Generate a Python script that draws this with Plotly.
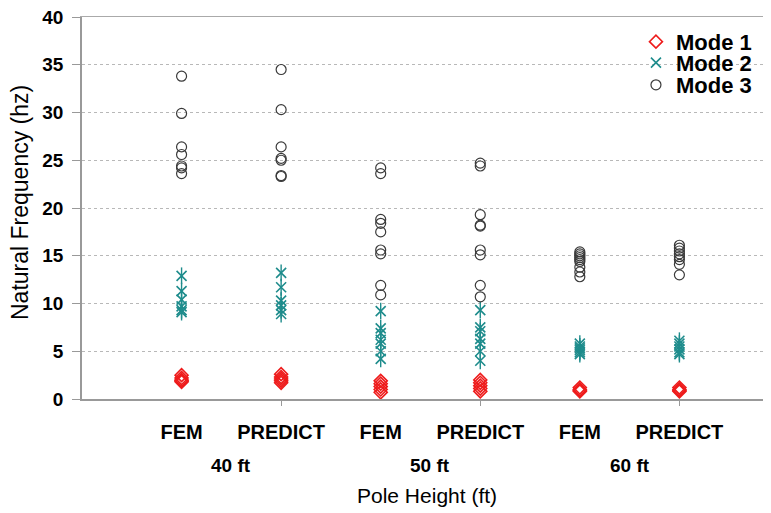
import plotly.graph_objects as go

# Categories
methods = ["FEM", "PREDICT", "FEM", "PREDICT", "FEM", "PREDICT"]
heights = ["40 ft", "50 ft", "60 ft"]

# Mode 1 natural frequencies (hz), one list per category
mode1 = [
    [2.5, 2.2, 2.0, 1.9, 1.8],
    [2.6, 2.3, 2.1, 1.9, 1.7],
    [1.9, 1.6, 1.3, 1.0, 0.7],
    [2.0, 1.7, 1.4, 1.1, 0.8],
    [1.2, 1.0, 0.9, 0.8],
    [1.2, 1.0, 0.9, 0.8],
]
# Mode 2
mode2 = [
    [12.9, 11.3, 10.4, 9.7, 9.3, 9.1],
    [13.2, 11.7, 10.3, 9.8, 9.3, 8.9],
    [9.2, 7.4, 6.9, 6.2, 5.8, 5.0, 4.2],
    [9.3, 7.5, 7.1, 6.3, 5.8, 5.0, 4.0],
    [5.8, 5.5, 5.3, 5.1, 4.9, 4.7],
    [6.1, 5.8, 5.5, 5.2, 4.9, 4.7],
]
# Mode 3
mode3 = [
    [33.8, 29.9, 26.4, 25.6, 24.4, 24.2, 23.6],
    [34.5, 30.3, 26.4, 25.2, 25.0, 23.4, 23.3],
    [24.2, 23.6, 18.8, 18.4, 17.5, 15.6, 15.2, 11.9, 10.9],
    [24.7, 24.4, 19.3, 18.2, 18.1, 15.6, 15.1, 11.9, 10.7],
    [15.4, 15.2, 15.0, 14.8, 14.6, 14.4, 13.8, 13.3, 12.8],
    [16.1, 15.8, 15.5, 15.2, 14.9, 14.6, 14.1, 13.0],
]

FONT = "Liberation Sans, Arial, sans-serif"
RED = "#ee1c1c"
TEAL = "#1e8c8c"
GRAY = "#3a3a3a"


def flatten(data):
    xs, ys = [], []
    for i, vals in enumerate(data):
        xs += [i + 1] * len(vals)
        ys += vals
    return xs, ys


fig = go.Figure()
x1, y1 = flatten(mode1)
x2, y2 = flatten(mode2)
x3, y3 = flatten(mode3)

fig.add_trace(go.Scatter(
    x=x1, y=y1, mode="markers", name="Mode 1", legend="legend",
    marker=dict(symbol="diamond-open", size=10, color=RED, line=dict(color=RED, width=1.6)),
))
fig.add_trace(go.Scatter(
    x=x2, y=y2, mode="markers", name="Mode 2", legend="legend2",
    marker=dict(symbol="x-thin-open", size=10, color=TEAL, line=dict(color=TEAL, width=1.6)),
))
# vertical stroke of the Excel-style star marker
fig.add_trace(go.Scatter(
    x=x2, y=y2, mode="markers", name="Mode 2", showlegend=False, hoverinfo="skip",
    marker=dict(symbol="line-ns-open", size=12, color=TEAL, line=dict(color=TEAL, width=1.4)),
))
fig.add_trace(go.Scatter(
    x=x3, y=y3, mode="markers", name="Mode 3", legend="legend3",
    marker=dict(symbol="circle-open", size=10, color=GRAY, line=dict(color=GRAY, width=1.2)),
))

# invisible traces for the tick / border overlay axes
fig.add_trace(go.Scatter(x=[1], y=[0], xaxis="x2", mode="markers",
                         marker=dict(opacity=0), showlegend=False, hoverinfo="skip"))
fig.add_trace(go.Scatter(x=[1], y=[0], xaxis="x3", mode="markers",
                         marker=dict(opacity=0), showlegend=False, hoverinfo="skip"))

legend_font = dict(family=FONT, size=22, color="black", weight="bold")


def leg(y):
    return dict(x=0.804, y=y, xanchor="left", yanchor="middle",
                bgcolor="rgba(0,0,0,0)", borderwidth=0, font=legend_font, itemwidth=30)


xr = [0, 6.92]
fig.update_layout(
    width=771, height=513,
    # the page body adds an 8px offset; margins compensate for it
    margin=dict(l=74, r=8, t=9, b=122),
    paper_bgcolor="white", plot_bgcolor="white",
    font=dict(family=FONT, color="black"),
    showlegend=True,
    legend=leg(0.935),
    legend2=leg(0.88),
    legend3=leg(0.822),
    xaxis=dict(
        range=xr, tickmode="array", tickvals=list(range(1, 7)), ticktext=methods,
        ticks="", showgrid=False, zeroline=False, automargin=False,
        showline=True, linecolor="#999999", linewidth=2,
        tickfont=dict(family=FONT, size=20, weight="bold"),
        ticklabelstandoff=14,
    ),
    xaxis2=dict(
        range=xr, overlaying="x", side="bottom", anchor="y", automargin=False,
        tickmode="array", tickvals=[2, 4, 6], ticks="outside", ticklen=6,
        tickcolor="#999999", showticklabels=False, showgrid=False, zeroline=False,
        showline=False,
    ),
    xaxis3=dict(
        range=xr, overlaying="x", side="top", anchor="y", automargin=False,
        ticks="", showticklabels=False, showgrid=False, zeroline=False,
        showline=True, linecolor="#aaaaaa", linewidth=1,
    ),
    yaxis=dict(
        range=[0, 40], dtick=5, tick0=0, automargin=False,
        ticks="outside", ticklen=8, tickcolor="#999999",
        showline=True, linecolor="#999999", linewidth=1.5,
        showgrid=True, gridcolor="#b8b8b8", griddash="dot", gridwidth=1,
        zeroline=False,
        tickfont=dict(family=FONT, size=19, weight="bold"),
        ticklabelstandoff=5, ticklabeloverflow="allow",
    ),
)

# white legend background that hides the gridlines behind it
fig.add_shape(type="rect", xref="paper", yref="paper", x0=0.817, x1=1.0, y0=0.79, y1=0.972,
              fillcolor="white", line=dict(width=0), layer="between")

for j, h in enumerate(heights):
    fig.add_annotation(
        x=2 * j + 1.5, y=0, xref="x", yref="paper",
        text=h, showarrow=False, yanchor="middle", yshift=-66,
        font=dict(family=FONT, size=19, weight="bold", color="black"),
    )

fig.add_annotation(
    x=0.5, y=0, xref="paper", yref="paper", text="Pole Height (ft)",
    showarrow=False, yanchor="middle", xshift=0, yshift=-96,
    font=dict(family=FONT, size=21, color="black"),
)
fig.add_annotation(
    x=0, y=0.5, xref="paper", yref="paper", text="Natural Frequency (hz)",
    showarrow=False, textangle=-90, xanchor="center", yanchor="middle", xshift=-62,
    yshift=5,
    font=dict(family=FONT, size=23, color="black"),
)

fig.write_html("out.html")
